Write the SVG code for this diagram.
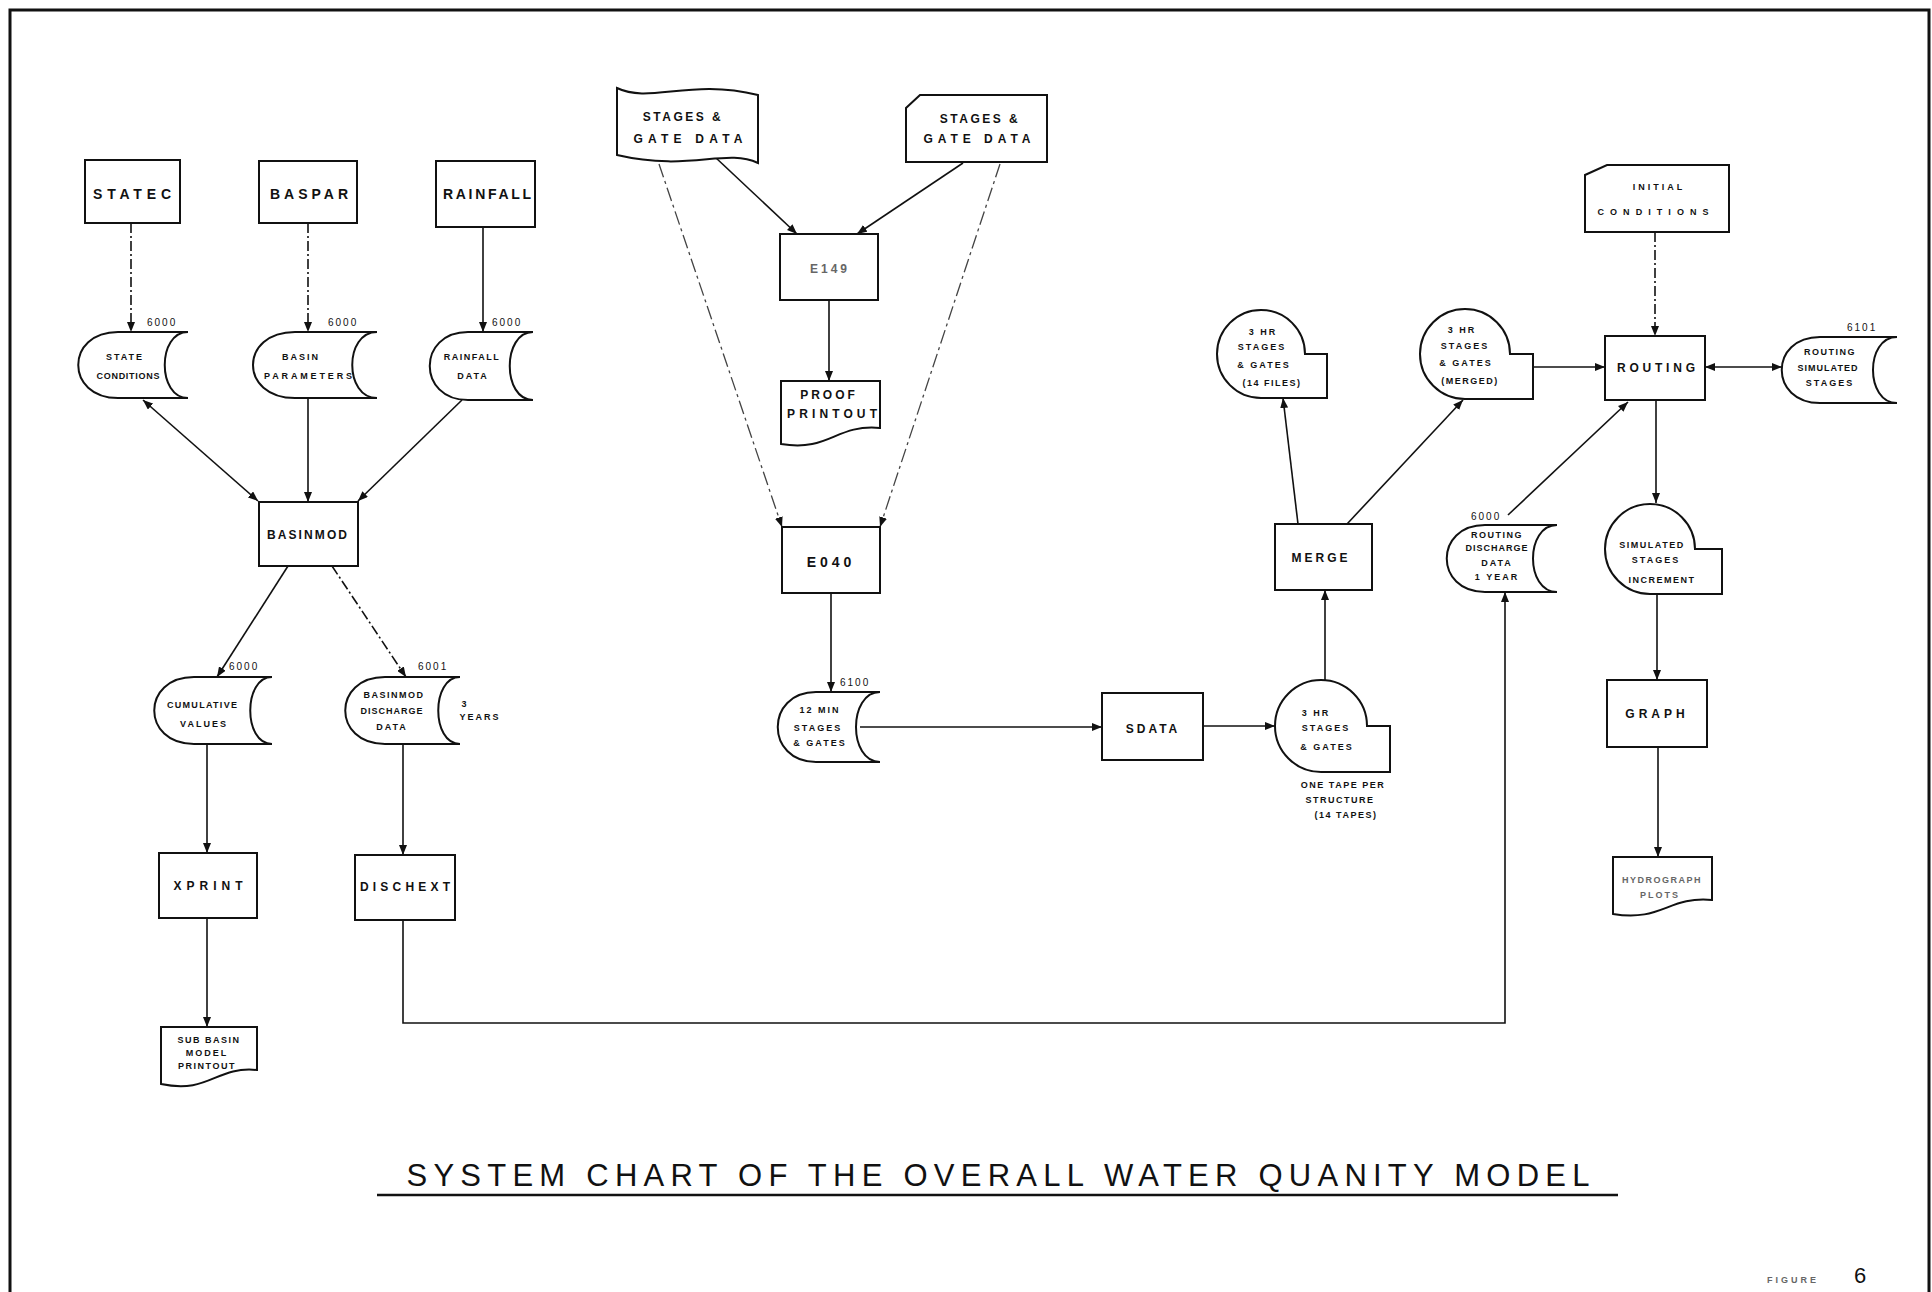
<svg xmlns="http://www.w3.org/2000/svg" width="1932" height="1292" viewBox="0 0 1932 1292">
<defs>
<marker id="ah" viewBox="0 0 10 8" refX="10" refY="4" markerWidth="10" markerHeight="8" markerUnits="userSpaceOnUse" orient="auto-start-reverse"><path d="M0,0 L10,4 L0,8 Z" fill="#111"/></marker>
<style>
.sh{fill:#fff;stroke:#111;stroke-width:2}
.t{font-family:"Liberation Sans",Arial,sans-serif;fill:#111;text-anchor:middle}
.lb{font-size:14px;font-weight:bold}
.md{font-size:12px;font-weight:bold}
.sm{font-size:9px;font-weight:bold}
.no{font-size:10px;text-anchor:start}
.c{stroke:#111;stroke-width:1.6;fill:none}
.a{marker-end:url(#ah)}
.b{marker-start:url(#ah);marker-end:url(#ah)}
.dd{stroke-dasharray:10 3 2 3}
.fa{stroke:#444;stroke-width:1.3;stroke-dasharray:14 4 3 4}
.gray{fill:#666}
</style>
</defs>
<rect width="1932" height="1292" fill="#fff"/>
<path d="M10,1292 L10,10 L1929,10 L1929,1292" fill="none" stroke="#111" stroke-width="3"/>

<g id="connectors">
<path class="c dd a" d="M131,223 L131,332"/>
<path class="c dd a" d="M308,223 L308,332"/>
<path class="c a" d="M483,227 L483,332"/>
<path class="c b" d="M143,400 L258,501"/>
<path class="c a" d="M308,398 L308,502"/>
<path class="c a" d="M462,400 L358,501"/>
<path class="c a" d="M288,566 L217,677"/>
<path class="c dd a" d="M332,566 L406,677"/>
<path class="c a" d="M207,744 L207,853"/>
<path class="c a" d="M403,744 L403,855"/>
<path class="c a" d="M207,918 L207,1027"/>
<path class="c a" d="M403,920 L403,1023 L1505,1023 L1505,592"/>
<path class="c a" d="M715,157 L797,234"/>
<path class="c a" d="M963,163 L857,234"/>
<path class="c a" d="M829,300 L829,381"/>
<path class="fa a" d="M659,164 L782,527"/>
<path class="fa a" d="M1000,164 L880,527"/>
<path class="c a" d="M831,593 L831,692"/>
<path class="c a" d="M860,727 L1102,727"/>
<path class="c a" d="M1202,726 L1275,726"/>
<path class="c a" d="M1325,680 L1325,590"/>
<path class="c a" d="M1298,524 L1283,398"/>
<path class="c a" d="M1347,524 L1463,400"/>
<path class="c a" d="M1533,367 L1605,367"/>
<path class="c dd a" d="M1655,232 L1655,336"/>
<path class="c b" d="M1705,367 L1782,367"/>
<path class="c a" d="M1508,515 L1628,402"/>
<path class="c a" d="M1656,400 L1656,503"/>
<path class="c a" d="M1657,594 L1657,680"/>
<path class="c a" d="M1658,747 L1658,857"/>
</g>

<g id="statec"><rect class="sh" x="85" y="160" width="95" height="63"/><text class="t lb" x="132" y="199" textLength="78" lengthAdjust="spacing">STATEC</text></g>
<g id="baspar"><rect class="sh" x="259" y="161" width="98" height="62"/><text class="t lb" x="309" y="199" textLength="78" lengthAdjust="spacing">BASPAR</text></g>
<g id="rainfall"><rect class="sh" x="436" y="161" width="99" height="66"/><text class="t lb" x="487" y="199" textLength="88" lengthAdjust="spacing">RAINFALL</text></g>

<g id="state-conditions"><path class="sh" d="M118,332 L188,332 C157,332 157,398 188,398 L118,398 C65,398 65,332 118,332 Z"/>
<text class="t no" x="147" y="326" letter-spacing="2">6000</text>
<text class="t sm" x="125" y="360" letter-spacing="2">STATE</text><text class="t sm" x="128" y="379" textLength="63" lengthAdjust="spacing">CONDITIONS</text></g>
<g id="basin-parameters"><path class="sh" d="M295,332 L377,332 C344,332 344,398 377,398 L295,398 C239,398 239,332 295,332 Z"/>
<text class="t no" x="328" y="326" letter-spacing="2">6000</text>
<text class="t sm" x="301" y="360" letter-spacing="2">BASIN</text><text class="t sm" x="308" y="379" textLength="88" lengthAdjust="spacing">PARAMETERS</text></g>
<g id="rainfall-data"><path class="sh" d="M468,332 L533,332 C502,332 502,400 533,400 L468,400 C417,400 417,332 468,332 Z"/>
<text class="t no" x="492" y="326" letter-spacing="2">6000</text>
<text class="t sm" x="472" y="360" letter-spacing="1.5">RAINFALL</text><text class="t sm" x="473" y="379" letter-spacing="2">DATA</text></g>

<g id="basinmod"><rect class="sh" x="259" y="502" width="99" height="64"/><text class="t md" x="307" y="539" textLength="80" lengthAdjust="spacing" font-size="10px">BASINMOD</text></g>

<g id="cumulative-values"><path class="sh" d="M194,677 L272,677 C243,677 243,744 272,744 L194,744 C141,744 141,677 194,677 Z"/>
<text class="t no" x="229" y="670" letter-spacing="2">6000</text>
<text class="t sm" x="202" y="708" textLength="70" lengthAdjust="spacing">CUMULATIVE</text><text class="t sm" x="204" y="727" letter-spacing="2">VALUES</text></g>
<g id="basinmod-discharge"><path class="sh" d="M385,677 L460,677 C431,677 431,744 460,744 L385,744 C332,744 332,677 385,677 Z"/>
<text class="t no" x="418" y="670" letter-spacing="2">6001</text>
<text class="t sm" x="394" y="698" letter-spacing="1.5">BASINMOD</text><text class="t sm" x="392" y="714" letter-spacing="1">DISCHARGE</text><text class="t sm" x="392" y="730" letter-spacing="2">DATA</text>
<text class="t sm" x="464" y="707">3</text><text class="t sm" x="480" y="720" letter-spacing="2">YEARS</text></g>

<g id="xprint"><rect class="sh" x="159" y="853" width="98" height="65"/><text class="t md" x="208" y="890" textLength="69" lengthAdjust="spacing">XPRINT</text></g>
<g id="dischext"><rect class="sh" x="355" y="855" width="100" height="65"/><text class="t md" x="405" y="891" textLength="90" lengthAdjust="spacing">DISCHEXT</text></g>
<g id="subbasin-printout"><path class="sh" d="M161,1027 L257,1027 L257,1070 C215,1066 210,1094 161,1084 Z"/>
<text class="t sm" x="209" y="1043" letter-spacing="1.5">SUB BASIN</text><text class="t sm" x="207" y="1056" letter-spacing="2">MODEL</text><text class="t sm" x="207" y="1069" letter-spacing="1.5">PRINTOUT</text></g>

<g id="stages-gate-left"><path class="sh" d="M617,88 C650,104 690,78 758,95 L758,163 C725,148 690,172 617,155 Z"/>
<text class="t md" x="683" y="121" letter-spacing="2.5">STAGES &amp;</text><text class="t md" x="688" y="143" textLength="109" lengthAdjust="spacing">GATE DATA</text></g>
<g id="stages-gate-right"><path class="sh" d="M920,95 L1047,95 L1047,162 L906,162 L906,108 Z"/>
<text class="t md" x="980" y="123" letter-spacing="2.5">STAGES &amp;</text><text class="t md" x="977" y="143" textLength="107" lengthAdjust="spacing">GATE DATA</text></g>
<g id="e149"><rect class="sh" x="780" y="234" width="98" height="66"/><text class="t md gray" x="830" y="273" letter-spacing="3">E149</text></g>
<g id="proof-printout"><path class="sh" d="M781,381 L880,381 L880,428 C835,424 830,452 781,444 Z"/>
<text class="t md" x="829" y="399" letter-spacing="3">PROOF</text><text class="t md" x="832" y="418" textLength="90" lengthAdjust="spacing">PRINTOUT</text></g>
<g id="e040"><rect class="sh" x="782" y="527" width="98" height="66"/><text class="t lb" x="831" y="567" font-size="15px" letter-spacing="4">E040</text></g>
<g id="twelve-min"><path class="sh" d="M816,692 L880,692 C848,692 848,762 880,762 L816,762 C765,762 765,692 816,692 Z"/>
<text class="t no" x="840" y="686" letter-spacing="2">6100</text>
<text class="t sm" x="820" y="713" letter-spacing="2">12 MIN</text><text class="t sm" x="818" y="731" letter-spacing="2">STAGES</text><text class="t sm" x="820" y="746" letter-spacing="2">&amp; GATES</text></g>
<g id="sdata"><rect class="sh" x="1102" y="693" width="101" height="67"/><text class="t md" x="1153" y="733" letter-spacing="3">SDATA</text></g>
<g id="three-hr-tapes"><path class="sh" d="M1321,772 A46,46 0 1 1 1367,726 L1390,726 L1390,772 Z"/>
<text class="t sm" x="1316" y="716" letter-spacing="2">3 HR</text><text class="t sm" x="1326" y="731" letter-spacing="2">STAGES</text><text class="t sm" x="1327" y="750" letter-spacing="2">&amp; GATES</text>
<text class="t sm" x="1343" y="788" letter-spacing="1.5">ONE TAPE PER</text><text class="t sm" x="1340" y="803" letter-spacing="1.5">STRUCTURE</text><text class="t sm" x="1346" y="818" letter-spacing="1.5">(14 TAPES)</text></g>
<g id="merge"><rect class="sh" x="1275" y="524" width="97" height="66"/><text class="t md" x="1321" y="562" letter-spacing="3">MERGE</text></g>
<g id="three-hr-files"><path class="sh" d="M1261,398 A44,44 0 1 1 1305,354 L1327,354 L1327,398 Z"/>
<text class="t sm" x="1263" y="335" letter-spacing="2">3 HR</text><text class="t sm" x="1262" y="350" letter-spacing="2">STAGES</text><text class="t sm" x="1264" y="368" letter-spacing="2">&amp; GATES</text><text class="t sm" x="1272" y="386" letter-spacing="1.5">(14 FILES)</text></g>
<g id="three-hr-merged"><path class="sh" d="M1465,399 A45,45 0 1 1 1510,354 L1533,354 L1533,399 Z"/>
<text class="t sm" x="1462" y="333" letter-spacing="2">3 HR</text><text class="t sm" x="1465" y="349" letter-spacing="2">STAGES</text><text class="t sm" x="1466" y="366" letter-spacing="2">&amp; GATES</text><text class="t sm" x="1470" y="384" letter-spacing="1.5">(MERGED)</text></g>
<g id="initial-conditions"><path class="sh" d="M1607,165 L1729,165 L1729,232 L1585,232 L1585,175 Z"/>
<text class="t sm" x="1659" y="190" font-size="11px" letter-spacing="3">INITIAL</text><text class="t sm" x="1653" y="215" font-size="11px" textLength="111" lengthAdjust="spacing">CONDITIONS</text></g>
<g id="routing"><rect class="sh" x="1605" y="336" width="100" height="64"/><text class="t md" x="1656" y="372" textLength="78" lengthAdjust="spacing">ROUTING</text></g>
<g id="routing-simulated-stages"><path class="sh" d="M1820,337 L1897,337 C1865,337 1865,403 1897,403 L1820,403 C1769,403 1769,337 1820,337 Z"/>
<text class="t no" x="1847" y="331" letter-spacing="2">6101</text>
<text class="t sm" x="1830" y="355" letter-spacing="1.5">ROUTING</text><text class="t sm" x="1828" y="371" letter-spacing="1">SIMULATED</text><text class="t sm" x="1830" y="386" letter-spacing="2">STAGES</text></g>
<g id="routing-discharge"><path class="sh" d="M1485,525 L1557,525 C1525,525 1525,592 1557,592 L1485,592 C1434,592 1434,525 1485,525 Z"/>
<text class="t no" x="1471" y="520" letter-spacing="2">6000</text>
<text class="t sm" x="1497" y="538" letter-spacing="1.5">ROUTING</text><text class="t sm" x="1497" y="551" letter-spacing="1">DISCHARGE</text><text class="t sm" x="1497" y="566" letter-spacing="2">DATA</text><text class="t sm" x="1497" y="580" letter-spacing="2">1 YEAR</text></g>
<g id="simulated-stages"><path class="sh" d="M1650,594 A45,45 0 1 1 1695,549 L1722,549 L1722,594 Z"/>
<text class="t sm" x="1652" y="548" letter-spacing="1.5">SIMULATED</text><text class="t sm" x="1656" y="563" letter-spacing="2">STAGES</text><text class="t sm" x="1662" y="583" letter-spacing="1.5">INCREMENT</text></g>
<g id="graph"><rect class="sh" x="1607" y="680" width="100" height="67"/><text class="t md" x="1657" y="718" letter-spacing="4">GRAPH</text></g>
<g id="hydrograph-plots"><path class="sh" d="M1613,857 L1712,857 L1712,900 C1668,896 1662,922 1613,914 Z"/>
<text class="t sm gray" x="1662" y="883" letter-spacing="1.5">HYDROGRAPH</text><text class="t sm gray" x="1660" y="898" letter-spacing="2">PLOTS</text></g>

<g id="title">
<text class="t" x="998" y="1186" font-size="31px" textLength="1183" lengthAdjust="spacing">SYSTEM  CHART OF THE OVERALL WATER QUANITY MODEL</text>
<line x1="377" y1="1195" x2="1618" y2="1195" stroke="#111" stroke-width="2.5"/>
<text class="t sm gray" x="1793" y="1283" font-size="11px" letter-spacing="3">FIGURE</text>
<text class="t" x="1860" y="1283" font-size="22px">6</text>
</g>
</svg>
